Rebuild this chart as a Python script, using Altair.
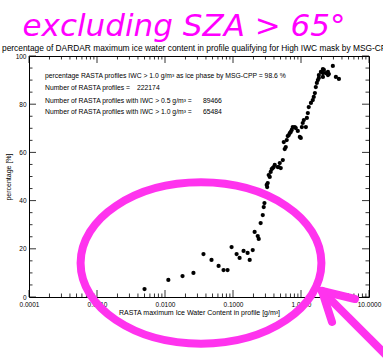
import altair as alt
import pandas as pd

# ---- data ----
iwc = [0.0050, 0.0112, 0.0181, 0.0262, 0.0368, 0.0483, 0.0614, 0.0726, 0.0832, 0.0953,
       0.113, 0.125, 0.143, 0.164, 0.176, 0.195, 0.208, 0.231, 0.239, 0.255,
       0.274, 0.283, 0.290, 0.313, 0.324, 0.318, 0.335, 0.347, 0.358, 0.371,
       0.384, 0.397, 0.411, 0.455, 0.471, 0.487, 0.504, 0.540, 0.558, 0.576,
       0.597, 0.617, 0.638, 0.661, 0.684, 0.707, 0.731, 0.756, 0.811, 0.838,
       0.897, 0.960, 0.993, 1.03, 1.06, 1.10, 1.18, 1.22, 1.26, 1.30,
       1.40, 1.49, 1.54, 1.60, 1.65, 1.71, 1.77, 1.83, 1.83, 1.96,
       2.10, 2.10, 2.17, 2.32, 2.49, 2.57, 2.94, 3.26, 3.61, 2.10, 2.49]
pct = [3.3, 7.1, 8.7, 10.0, 17.8, 15.4, 12.9, 11.2, 11.2, 20.7,
       17.8, 16.2, 19.1, 18.3, 15.4, 19.5, 27.0, 25.3, 24.1, 30.7,
       34.0, 37.3, 39.0, 46.5, 47.3, 45.6, 50.6, 49.8, 51.9, 53.1,
       53.5, 53.9, 54.8, 53.9, 53.9, 55.6, 53.5, 56.8, 64.3, 61.4,
       62.2, 65.1, 66.8, 67.2, 68.0, 68.5, 69.3, 70.5, 70.5, 70.1,
       68.9, 66.4, 66.0, 70.5, 72.2, 73.4, 70.5, 74.3, 76.3, 78.8,
       80.5, 81.7, 83.0, 84.6, 87.1, 88.8, 90.0, 92.1, 90.9, 93.4,
       92.9, 91.3, 94.2, 92.9, 92.1, 92.5, 95.9, 91.3, 90.5, 94.6, 93.4]

x_major = [0.0001, 0.001, 0.01, 0.1, 1.0, 10.0]
x_minor = [m * d for d in [0.0001, 0.001, 0.01, 0.1, 1.0] for m in range(2, 10)]
y_major = [0, 20, 40, 60, 80, 100]
y_minor = [v for v in range(5, 100, 5) if v % 20 != 0]

main_title = "percentage of DARDAR maximum ice water content in profile qualifying for High IWC mask by MSG-CPP"
overlay_title = "excluding SZA > 65°"
info_lines = [
    "percentage RASTA profiles IWC > 1.0 g/m³ as ice phase by MSG-CPP = 98.6 %",
    "Number of RASTA profiles =",
    "Number of RASTA profiles with IWC > 0.5 g/m³ =",
    "Number of RASTA profiles with IWC > 1.0 g/m³ =",
]
info_values = ["", "222174", "89466", "65484"]

W, H = 340, 241
FONT = "Liberation Sans"
MAG = "#ff33ee"

df = pd.DataFrame({"iwc": iwc, "pct": pct})
xs = alt.Scale(type="log", domain=[0.0001, 10], nice=False)
ys = alt.Scale(domain=[0, 100], nice=False)

points = alt.Chart(df).mark_circle(size=18, color="black", opacity=1).encode(
    x=alt.X("iwc:Q", scale=xs,
            axis=alt.Axis(values=x_major, labelExpr="format(datum.value, '.4f')",
                          ticks=False, domain=False, grid=False,
                          title="RASTA maximum Ice Water Content in profile [g/m³]",
                          labelPadding=4, titlePadding=1, labelFlush=False,
                          labelOverlap=False)),
    y=alt.Y("pct:Q", scale=ys,
            axis=alt.Axis(values=y_major, ticks=False, domain=False, grid=False,
                          title="percentage [%]", labelPadding=3, titlePadding=4)),
)

def xticks(vals, length):
    d = pd.DataFrame({"v": vals})
    bottom = alt.Chart(d).mark_rule(color="black", strokeWidth=0.8).encode(
        x=alt.X("v:Q", scale=xs), y=alt.value(H), y2=alt.value(H - length))
    top = alt.Chart(d).mark_rule(color="black", strokeWidth=0.8).encode(
        x=alt.X("v:Q", scale=xs), y=alt.value(0), y2=alt.value(length))
    return [bottom, top]

def yticks(vals, length):
    d = pd.DataFrame({"v": vals})
    left = alt.Chart(d).mark_rule(color="black", strokeWidth=0.8).encode(
        y=alt.Y("v:Q", scale=ys), x=alt.value(0), x2=alt.value(length))
    right = alt.Chart(d).mark_rule(color="black", strokeWidth=0.8).encode(
        y=alt.Y("v:Q", scale=ys), x=alt.value(W), x2=alt.value(W - length))
    return [left, right]

one = pd.DataFrame({"a": [0]})

def text_at(txt, x, y, size=7, **kw):
    return alt.Chart(one).mark_text(
        text=txt, font=FONT, fontSize=size, align="left", baseline="middle", color="black", **kw
    ).encode(x=alt.value(x), y=alt.value(y))

title_black = text_at(main_title, -27, -8, size=8.4)

title_mag = alt.Chart(one).mark_text(
    text=overlay_title, font="DejaVu Sans", fontStyle="italic", fontSize=31,
    align="center", baseline="alphabetic", color="#ff00ff"
).encode(x=alt.value(155), y=alt.value(-20))

info_y = [20, 32, 45, 56]
info_vx = [0, 108, 174, 174]
info = []
for t, v, yy, vx in zip(info_lines, info_values, info_y, info_vx):
    info.append(text_at(t, 16, yy, size=6.8))
    if v:
        info.append(text_at(v, vx, yy, size=6.8))

ellipse = alt.Chart(one).mark_point(
    shape="M-1,0A1,0.67,0,1,0,1,0A1,0.67,0,1,0,-1,0Z",
    filled=False, stroke=MAG, strokeWidth=8, opacity=1
).encode(x=alt.value(172), y=alt.value(207), size=alt.value(58000))

def seg(x1, y1, x2, y2):
    return alt.Chart(one).mark_rule(color=MAG, strokeWidth=8, strokeCap="round").encode(
        x=alt.value(x1), y=alt.value(y1), x2=alt.value(x2), y2=alt.value(y2))

arrow = [seg(293, 235, 370, 312), seg(293, 235, 326, 243), seg(293, 235, 303, 266)]

layers = [points] + xticks(x_major, 7) + xticks(x_minor, 3.5) + yticks(y_major, 7) + yticks(y_minor, 3.5)
layers += info + [title_black, title_mag, ellipse] + arrow

chart = alt.layer(*layers).properties(
    width=W, height=H,
    autosize=alt.AutoSizeParams(type="none"),
    padding={"left": 29, "top": 56, "right": 14, "bottom": 64},
    background="white",
).configure_view(stroke="black", strokeWidth=1).configure_axis(
    labelFont=FONT, titleFont=FONT, labelFontSize=6.5, titleFontSize=7,
    labelColor="black", titleColor="black", titleFontWeight="normal",
)

chart.save("out.html", embed_options={"renderer": "svg", "actions": False})
